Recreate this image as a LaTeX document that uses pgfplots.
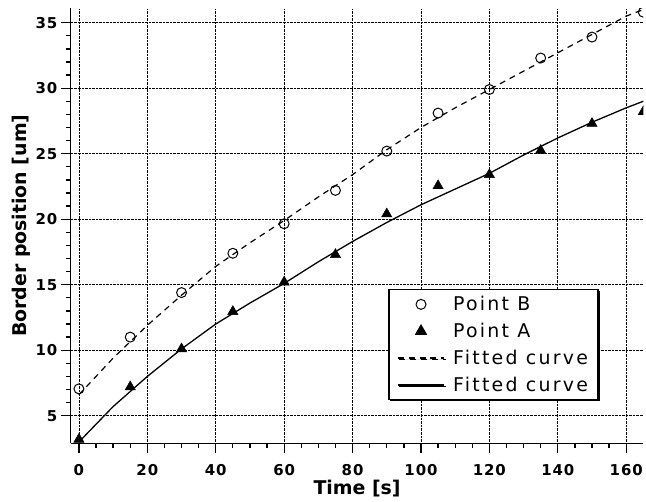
\documentclass[border=0pt]{standalone}
\usepackage{fontspec}
\setmainfont{DejaVu Sans}
\newfontfamily\legfont[LetterSpace=12]{DejaVu Sans}
\newfontfamily\tickfont[LetterSpace=6]{DejaVu Sans}
\usepackage{pgfplots}
\pgfplotsset{compat=1.18}
\usepackage{pgfplotstable}
\usetikzlibrary{shadows}

\pgfplotsset{
  markleg/.style={legend image code/.code={\draw[##1] plot coordinates {(23.5pt,0pt)};}},
  lineleg/.style={legend image code/.code={\draw[##1] (0pt,0pt) -- (47pt,0pt);}},
}

% measured points
\pgfplotstableread{
t   y
0   7.05
15  11.0
30  14.4
45  17.4
60  19.65
75  22.2
90  25.2
105 28.1
120 29.9
135 32.3
150 33.9
165 35.8
}\pointB
\pgfplotstableread{
t   y
0   3.2
15  7.2
30  10.1
45  12.95
60  15.2
75  17.3
90  20.4
105 22.55
120 23.4
135 25.25
150 27.3
165 28.2
}\pointA
% fitted curves
\pgfplotstableread{
t   y
0   6.6
10  9.4
20  11.9
30  14.2
40  16.4
50  18.2
60  19.9
70  21.7
80  23.4
90  25.3
100 27.0
110 28.5
120 29.9
130 31.3
140 32.7
150 34.1
160 35.5
166 36.1
}\fitB
\pgfplotstableread{
t   y
0   3.0
10  5.7
20  8.0
30  10.1
40  12.0
50  13.6
60  15.1
70  16.75
80  18.3
90  19.75
100 21.1
110 22.3
120 23.5
130 24.9
140 26.2
150 27.4
160 28.5
166 29.1
}\fitA

\begin{document}
\begin{tikzpicture}
\begin{axis}[
  scale only axis, width=575pt, height=436.7pt,
  xmin=-2.4, xmax=165.05, ymin=2.9, ymax=36.1,
  axis x line*=bottom, axis y line*=left,
  axis line style={-, line width=1.3pt},
  xtick={0,20,...,160}, ytick={5,10,...,35},
  minor x tick num=3, minor y tick num=4,
  tick align=outside, major tick length=10pt, minor tick length=5pt,
  every tick/.style={black, line width=1.3pt},
  grid=major, major grid style={black, densely dotted, line width=0.8pt},
  tick label style={font=\fontsize{15}{18}\selectfont\tickfont\bfseries},
  xticklabel style={yshift=-8pt},
  /pgf/number format/assume math mode=true,
  label style={font=\fontsize{19}{22}\selectfont\bfseries},
  xlabel={Time [s]}, ylabel={Border position [um]},
  xlabel style={at={(axis description cs:0.5,-0.1185)}, anchor=base},
  ylabel style={at={(axis description cs:-0.0635,0.5)}, anchor=south},
  clip marker paths=true,
  legend style={at={(rel axis cs:0.9217,0.0986)}, anchor=south east,
    draw=black, line width=1.2pt, fill=white,
    drop shadow={shadow xshift=1.5pt, shadow yshift=-1.5pt, fill=black, opacity=1},
    font=\fontsize{19}{22}\selectfont\legfont,
    cells={anchor=west}, row sep=7pt, column sep=6pt,
    inner xsep=8pt, inner ysep=5pt},
]
\addplot[only marks, mark=o, mark size=5pt, black, line width=1pt, markleg]
  table[x=t, y=y] {\pointB};
\addlegendentry{Point B}
\addplot[only marks, mark=triangle*, mark size=6pt, black, markleg]
  table[x=t, y=y] {\pointA};
\addlegendentry{Point A}
\addplot[black, line width=1.2pt, dash pattern=on 6pt off 5pt, no markers, lineleg]
  table[x=t, y=y] {\fitB};
\addlegendentry{Fitted curve}
\addplot[black, line width=1.3pt, no markers, lineleg]
  table[x=t, y=y] {\fitA};
\addlegendentry{Fitted curve}
\end{axis}
\path (current axis.south west) ++(-71pt,-58pt) rectangle ++(646pt,503pt);
\end{tikzpicture}
\end{document}
